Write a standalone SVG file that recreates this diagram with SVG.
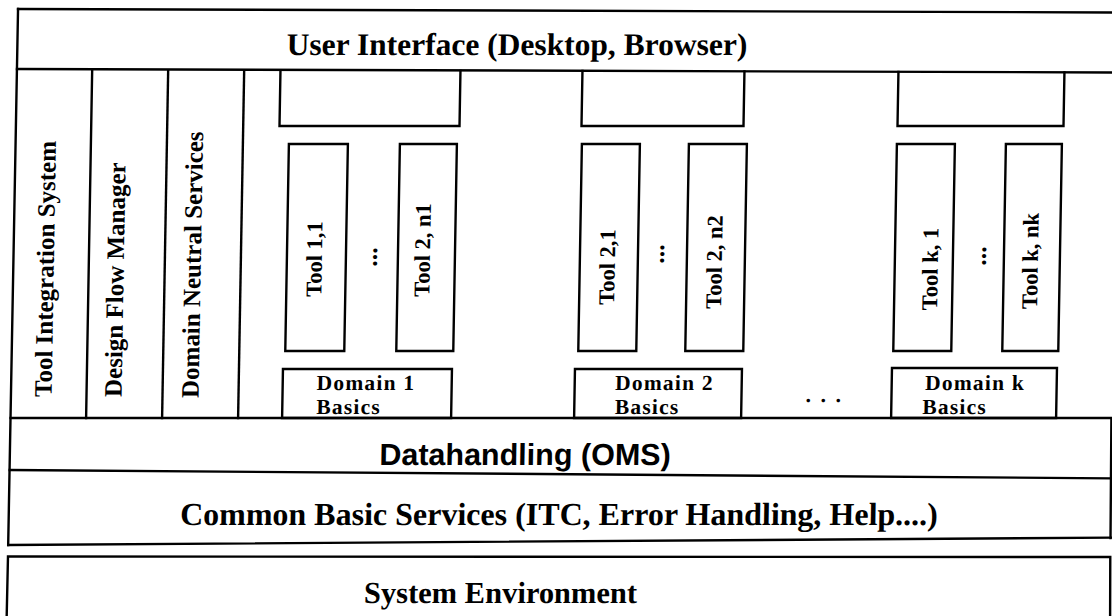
<svg xmlns="http://www.w3.org/2000/svg" width="1112" height="616" viewBox="0 0 1112 616">
<style>
.ln{fill:none;stroke:#000;stroke-width:2.4;stroke-linecap:square}
.bx{fill:#fff;stroke:#000;stroke-width:2.4}
.t{font-family:"Liberation Serif","Times New Roman",serif;font-weight:bold;fill:#000}
.s{font-family:"Liberation Sans",Arial,sans-serif;font-weight:bold;fill:#000}
.v{font-size:25px}
.tl{font-size:22.5px;text-anchor:middle}
.dt{font-size:26px;text-anchor:middle}
.dm{font-size:21.5px;letter-spacing:1.2px}
</style>
<rect width="1112" height="616" fill="#fff"/>
<g transform="translate(5.4,0) skewX(-1)">
  <g id="user-interface">
    <path class="ln" d="M12.8,9 L1130,12.5 M12.8,69 L1130,72.5"/>
    <text class="t" x="512.4" y="55" font-size="31.5" text-anchor="middle">User Interface (Desktop, Browser)</text>
  </g>
  <g id="tool-integration-system">
    <path class="ln" d="M12.8,9 L12.3,545 M88,70 V418"/>
    <text class="t v" transform="translate(53,397) rotate(-90)">Tool Integration System</text>
  </g>
  <g id="design-flow-manager">
    <path class="ln" d="M164,70.5 V418"/>
    <text class="t v" transform="translate(123,397) rotate(-90)">Design Flow Manager</text>
  </g>
  <g id="domain-neutral-services">
    <path class="ln" d="M240,70.5 V418"/>
    <text class="t v" transform="translate(200,398) rotate(-90)">Domain Neutral Services</text>
  </g>
  <g id="ui-slot-1"><path class="ln" d="M276.3,70.5 V126 H456.3 V71"/></g>
  <g id="ui-slot-2"><path class="ln" d="M578.3,71 V126 H740.3 V71.5"/></g>
  <g id="ui-slot-k"><path class="ln" d="M894.3,72 V126 H1060.3 V72.5"/></g>

  <g id="tool-1-1">
    <rect class="bx" x="286" y="144" width="59" height="207"/>
    <text class="t tl" transform="translate(321,259) rotate(-90)">Tool 1,1</text>
  </g>
  <g id="dots-1"><text class="t dt" transform="translate(376,257) rotate(-90)">...</text></g>
  <g id="tool-2-n1">
    <rect class="bx" x="397" y="144" width="57" height="207"/>
    <text class="t tl" transform="translate(429,250) rotate(-90)">Tool 2, n1</text>
  </g>
  <g id="tool-2-1">
    <rect class="bx" x="579" y="144" width="58" height="207"/>
    <text class="t tl" transform="translate(614,267) rotate(-90)">Tool 2,1</text>
  </g>
  <g id="dots-2"><text class="t dt" transform="translate(663,254) rotate(-90)">...</text></g>
  <g id="tool-2-n2">
    <rect class="bx" x="686" y="144" width="58" height="207"/>
    <text class="t tl" transform="translate(721,262) rotate(-90)">Tool 2, n2</text>
  </g>
  <g id="tool-k-1">
    <rect class="bx" x="894" y="144" width="58" height="207"/>
    <text class="t tl" transform="translate(937,269) rotate(-90)">Tool k, 1</text>
  </g>
  <g id="dots-k"><text class="t dt" transform="translate(985,256) rotate(-90)">...</text></g>
  <g id="tool-k-nk">
    <rect class="bx" x="1003" y="144" width="56" height="207"/>
    <text class="t tl" transform="translate(1037,261) rotate(-90)">Tool k, nk</text>
  </g>

  <g id="domain-1-basics">
    <rect class="bx" x="284" y="369" width="169" height="49"/>
    <text class="t dm" x="318" y="390.5"><tspan x="318">Domain 1</tspan><tspan x="318" dy="24">Basics</tspan></text>
  </g>
  <g id="domain-2-basics">
    <rect class="bx" x="576" y="369" width="167" height="49"/>
    <text class="t dm" x="616.5" y="390.5"><tspan x="616.5">Domain 2</tspan><tspan x="616.5" dy="24">Basics</tspan></text>
  </g>
  <g id="domain-dots"><text class="t" x="826" y="402" font-size="22" text-anchor="middle" letter-spacing="2">. . .</text></g>
  <g id="domain-k-basics">
    <rect class="bx" x="893" y="368" width="165" height="50"/>
    <text class="t dm" x="926.5" y="390.5"><tspan x="926.5">Domain k</tspan><tspan x="924" dy="24">Basics</tspan></text>
  </g>

  <g id="datahandling">
    <path class="ln" d="M12.5,418 L1130,418 M1113.3,418 L1114.5,538"/>
    <text class="s" x="527.6" y="465" font-size="30.5" text-anchor="middle">Datahandling (OMS)</text>
  </g>
  <g id="common-basic-services">
    <path class="ln" d="M12.5,470 L1130,478.5 M12.4,545 L1130,537.5"/>
    <text class="t" x="562.6" y="525" font-size="32" text-anchor="middle">Common Basic Services (ITC, Error Handling, Help....)</text>
  </g>
  <g id="system-environment">
    <path class="ln" d="M12,625 L12.3,556.5 L1114.6,557 L1115.6,625"/>
    <text class="t" x="505.5" y="603" font-size="30.5" text-anchor="middle">System Environment</text>
  </g>
</g>
</svg>
